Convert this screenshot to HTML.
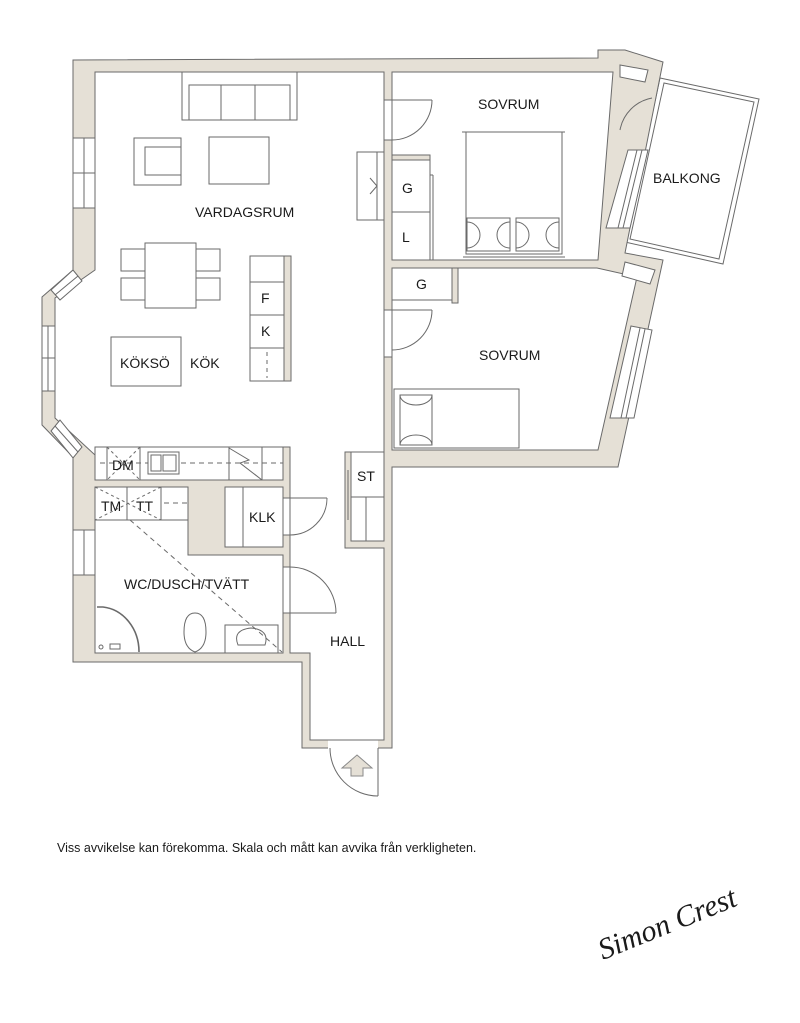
<!DOCTYPE html>
<html><head><meta charset="utf-8"><style>
html,body{margin:0;padding:0;background:#fff;}
svg{display:block;}
text{font-family:"Liberation Sans",sans-serif;fill:#1a1a1a;}
</style></head><body>
<svg width="800" height="1023" viewBox="0 0 800 1023" xmlns="http://www.w3.org/2000/svg">
<g stroke="#6a6a6a" stroke-width="1" stroke-linejoin="miter">
<!-- balcony -->
<polygon points="660,78 759,99 723,264 625,242" fill="#fff"/>
<polygon points="664,83 754,102 719,259 630,239" fill="none"/>
<!-- footprint -->
<polygon fill="#e5e0d6" points="73,60 598,58 598,50 625,50 663,62 625,253 663,260 618,467 392,467 392,748 302,748 302,662 73,662 73,457 42,425 42,297 73,270"/>
<!-- living + hall -->
<polygon fill="#fff" points="95,72 384,72 384,452 345,452 345,548 384,548 384,740 310,740 310,653 290,653 290,447 95,447 95,455 55,418 55,298 95,270"/>
<!-- kitchen counter -->
<rect x="95" y="447" width="188" height="33" fill="#fff"/>
<!-- bath -->
<polygon fill="#fff" points="95,487 188,487 188,555 283,555 283,653 95,653"/>
<!-- KLK -->
<rect x="225" y="487" width="58" height="60" fill="#fff"/>
<!-- ST -->
<rect x="351" y="452" width="33" height="89" fill="#fff"/>
<!-- bedroom1 -->
<polygon fill="#fff" points="392,72 613,72 598,260 392,260"/>
<!-- bedroom2 -->
<polygon fill="#fff" points="392,268 597,268 637,277 598,450 392,450"/>
<!-- G2 closet -->
<rect x="392" y="268" width="60" height="32" fill="#fff"/>
<rect x="452" y="268" width="6" height="35" fill="#e5e0d6"/>
<!-- G/L closet -->
<rect x="392" y="158" width="38" height="102" fill="#fff"/>
<rect x="392" y="155" width="38" height="5" fill="#e5e0d6"/>
<line x1="392" y1="212" x2="430" y2="212"/>
<line x1="430" y1="175" x2="433" y2="175"/><line x1="433" y1="175" x2="433" y2="260"/>
</g>
<!-- door gaps (white) -->
<g fill="#fff">
<rect x="384.5" y="100" width="7" height="40"/>
<rect x="384.5" y="310" width="7" height="47"/>
<rect x="283.5" y="498" width="6" height="37"/>
<rect x="283.5" y="567" width="6" height="46"/>
<rect x="328" y="740.5" width="50" height="8"/>
<!-- left windows -->
<rect x="73.5" y="138" width="21" height="70"/>
<rect x="73.5" y="530" width="21" height="45"/>
<rect x="42.5" y="326" width="12" height="65"/>
</g>
<g stroke="#6a6a6a" stroke-width="1" fill="none">
<!-- door lines -->
<line x1="384" y1="100" x2="392" y2="100"/><line x1="384" y1="140" x2="392" y2="140"/>
<line x1="384" y1="310" x2="392" y2="310"/><line x1="384" y1="357" x2="392" y2="357"/>
<line x1="283" y1="498" x2="290" y2="498"/><line x1="283" y1="535" x2="290" y2="535"/>
<line x1="283" y1="567" x2="290" y2="567"/><line x1="283" y1="613" x2="290" y2="613"/>
<!-- door swings -->
<path d="M392,140 L432,140 A40,40 0 0 0 392,100" stroke-width="0"/>
<path d="M432,100 A40,40 0 0 1 392,140"/><line x1="392" y1="100" x2="432" y2="100"/>
<path d="M432,310 A40,40 0 0 1 392,350"/><line x1="392" y1="310" x2="432" y2="310"/>
<path d="M327,498 A37,37 0 0 1 290,535"/><line x1="290" y1="498" x2="327" y2="498"/>
<path d="M290,567 A46,46 0 0 1 336,613"/><line x1="290" y1="613" x2="336" y2="613"/>
<path d="M330,748 A48,48 0 0 0 378,796"/><line x1="378" y1="748" x2="378" y2="796"/>
<path d="M620,130 A40,40 0 0 1 652,98"/>
<!-- left windows lines -->
<line x1="84" y1="138" x2="84" y2="208"/><line x1="73" y1="173" x2="95" y2="173"/>
<line x1="73" y1="138" x2="95" y2="138"/><line x1="73" y1="208" x2="95" y2="208"/>
<line x1="84" y1="530" x2="84" y2="575"/><line x1="73" y1="530" x2="95" y2="530"/><line x1="73" y1="575" x2="95" y2="575"/>
<line x1="48" y1="326" x2="48" y2="391"/><line x1="42" y1="358" x2="55" y2="358"/>
<line x1="42" y1="326" x2="55" y2="326"/><line x1="42" y1="391" x2="55" y2="391"/>
<!-- bay diagonal windows -->
<polygon points="51,290 60,300 82,281 73,270" fill="#fff"/>
<line x1="55" y1="295" x2="78" y2="276"/>
<polygon points="51,431 60,420 82,447 73,458" fill="#fff"/>
<line x1="55" y1="426" x2="78" y2="452"/>
<!-- right windows bedroom1 -->
<polygon points="628,150 648,150 630,228 606,228" fill="#fff"/>
<line x1="637" y1="150" x2="618" y2="228"/><line x1="642" y1="150" x2="623" y2="228"/>
<polygon points="631,326 652,330 634,418 610,418" fill="#fff"/>
<line x1="640" y1="328" x2="621" y2="418"/><line x1="645" y1="329" x2="626" y2="418"/>
<polygon points="620,65 648,70 645,82 620,77" fill="#fff"/>
<polygon points="625,262 655,270 650,284 622,276" fill="#fff"/>
<!-- sofa -->
<rect x="182" y="72" width="115" height="48"/>
<rect x="189" y="85" width="101" height="35"/>
<line x1="221" y1="85" x2="221" y2="120"/><line x1="255" y1="85" x2="255" y2="120"/>
<!-- armchair -->
<rect x="134" y="138" width="47" height="47"/><rect x="145" y="147" width="36" height="28"/>
<!-- table -->
<rect x="209" y="137" width="60" height="47"/>
<!-- dining -->
<rect x="145" y="243" width="51" height="65"/>
<rect x="121" y="249" width="24" height="22"/><rect x="121" y="278" width="24" height="22"/>
<rect x="196" y="249" width="24" height="22"/><rect x="196" y="278" width="24" height="22"/>
<!-- koksö -->
<rect x="111" y="337" width="70" height="49"/>
<!-- F/K unit -->
<rect x="250" y="256" width="34" height="125"/>
<rect x="284" y="256" width="7" height="125" fill="#e5e0d6"/>
<line x1="250" y1="282" x2="284" y2="282"/><line x1="250" y1="315" x2="284" y2="315"/><line x1="250" y1="348" x2="284" y2="348"/>
<line x1="267" y1="352" x2="267" y2="378" stroke-dasharray="4,4"/>
<!-- tv unit -->
<rect x="357" y="152" width="27" height="68"/><line x1="377" y1="152" x2="377" y2="220"/>
<polyline points="370,178 377,186 370,194"/>
<!-- double bed -->
<rect x="466" y="132" width="96" height="122"/><line x1="462" y1="132" x2="565" y2="132"/>
<rect x="467" y="218" width="43" height="33"/><rect x="516" y="218" width="43" height="33"/>
<line x1="463" y1="257" x2="565" y2="257"/>
<path d="M467,222 A12,12 0 0 1 467,248"/><path d="M510,222 A12,12 0 0 0 510,248"/>
<path d="M516,222 A12,12 0 0 1 516,248"/><path d="M559,222 A12,12 0 0 0 559,248"/>
<!-- single bed -->
<rect x="394" y="389" width="125" height="59"/>
<rect x="400" y="395" width="32" height="50"/>
<path d="M400,395 A16,10 0 0 0 432,395"/><path d="M400,445 A16,10 0 0 1 432,445"/>
<!-- kitchen counter details -->
<line x1="100" y1="463" x2="283" y2="463" stroke-dasharray="5,4"/>
<line x1="107" y1="447" x2="107" y2="480"/><line x1="140" y1="447" x2="140" y2="480"/>
<line x1="107" y1="447" x2="140" y2="480" stroke-dasharray="3,3"/><line x1="140" y1="447" x2="107" y2="480" stroke-dasharray="3,3"/>
<rect x="148" y="452" width="31" height="22" fill="#fff"/><rect x="151" y="455" width="10" height="16" fill="#fff"/><rect x="163" y="455" width="13" height="16" fill="#fff"/>
<line x1="229" y1="447" x2="229" y2="480"/><line x1="262" y1="447" x2="262" y2="480"/>
<polyline points="229,448 249,460 240,463 262,480" fill="none"/>
<!-- bath counter -->
<rect x="95" y="487" width="93" height="33"/>
<line x1="127" y1="487" x2="127" y2="520"/><line x1="161" y1="487" x2="161" y2="520"/>
<line x1="95" y1="487" x2="161" y2="520" stroke-dasharray="3,3"/><line x1="161" y1="487" x2="95" y2="520" stroke-dasharray="3,3"/>
<line x1="164" y1="503" x2="188" y2="503" stroke-dasharray="5,4"/>
<line x1="130" y1="520" x2="282" y2="652" stroke-dasharray="5,4"/>
<!-- KLK details -->
<line x1="243" y1="487" x2="243" y2="547"/>
<!-- ST details -->
<line x1="351" y1="497" x2="384" y2="497"/><line x1="366" y1="497" x2="366" y2="541"/>
<line x1="348" y1="470" x2="348" y2="520"/>
<!-- shower -->
<path d="M97,607 L103,607 A40,45 0 0 1 139,652" stroke-width="1.6"/>
<circle cx="101" cy="647" r="2"/><rect x="110" y="644" width="10" height="5"/>
<!-- toilet -->
<path d="M184,632 Q184,613 195,613 Q206,613 206,632 Q206,648 195,652 Q184,648 184,632 Z"/>
<!-- sink -->
<rect x="225" y="625" width="53" height="28"/>
<path d="M238,645 Q232,630 251,628 Q270,630 265,645 Z"/>
</g>
<!-- entry arrow -->
<polygon points="357,755 372,768 363,768 363,776 351,776 351,768 342,768" fill="#e5e0d6" stroke="#8a8a8a"/>
<!-- labels -->
<g font-size="14">
<text x="478" y="109">SOVRUM</text>
<text x="195" y="217">VARDAGSRUM</text>
<text x="653" y="183">BALKONG</text>
<text x="402" y="193">G</text>
<text x="402" y="242">L</text>
<text x="416" y="289">G</text>
<text x="261" y="303">F</text>
<text x="261" y="336">K</text>
<text x="120" y="368">KÖKSÖ</text>
<text x="190" y="368">KÖK</text>
<text x="479" y="360">SOVRUM</text>
<text x="112" y="470">DM</text>
<text x="357" y="481">ST</text>
<text x="101" y="511">TM</text>
<text x="136" y="511">TT</text>
<text x="249" y="522">KLK</text>
<text x="124" y="589">WC/DUSCH/TVÄTT</text>
<text x="330" y="646">HALL</text>
</g>
<text x="57" y="852" font-size="12.5">Viss avvikelse kan förekomma. Skala och mått kan avvika från verkligheten.</text>
<text x="0" y="0" font-size="30" font-style="italic" font-family="Liberation Serif,serif" transform="translate(603,960) rotate(-22)" style="font-family:'Liberation Serif',serif">Simon Crest</text>
</svg>
</body></html>
